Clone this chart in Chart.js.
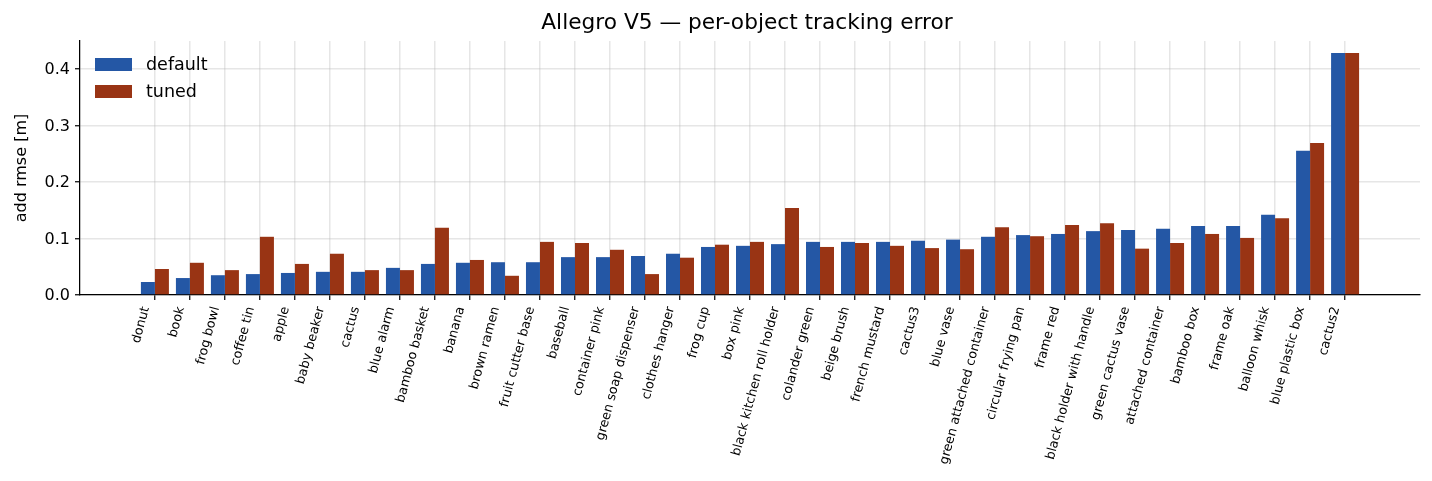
<!DOCTYPE html>
<html>
<head>
<meta charset="utf-8">
<script src="https://cdn.jsdelivr.net/npm/chart.js@4"></script>
<style>
  html, body { margin: 0; padding: 0; background: #fff; }
  #wrap { width: 1432px; height: 481px; }
</style>
</head>
<body>
<div id="wrap"><canvas id="c" width="1432" height="481"></canvas></div>
<script>
const categories = ["donut","book","frog bowl","coffee tin","apple","baby beaker","cactus","blue alarm","bamboo basket","banana","brown ramen","fruit cutter base","baseball","container pink","green soap dispenser","clothes hanger","frog cup","box pink","black kitchen roll holder","colander green","beige brush","french mustard","cactus3","blue vase","green attached container","circular frying pan","frame red","black holder with handle","green cactus vase","attached container","bamboo box","frame oak","balloon whisk","blue plastic box","cactus2"];
const defaultErr = [0.023,0.030,0.035,0.037,0.039,0.041,0.041,0.048,0.055,0.057,0.058,0.058,0.067,0.067,0.069,0.073,0.085,0.087,0.090,0.094,0.094,0.094,0.096,0.098,0.103,0.106,0.108,0.113,0.115,0.117,0.122,0.122,0.142,0.255,0.428];
const tunedErr = [0.046,0.057,0.044,0.103,0.055,0.073,0.044,0.044,0.119,0.062,0.034,0.094,0.092,0.080,0.037,0.066,0.089,0.094,0.154,0.085,0.092,0.087,0.083,0.081,0.120,0.104,0.124,0.127,0.082,0.092,0.108,0.101,0.136,0.269,0.428];
const yTicks = [0.0, 0.1, 0.2, 0.3, 0.4];
const seriesNames = ["default", "tuned"];
const titleText = "Allegro V5 — per-object tracking error";
const yLabel = "add rmse [m]";

const COLORS = ["#2457a5", "#993414"];
const FONT = "'DejaVu Sans', 'Liberation Sans', sans-serif";
const GRID = 'rgba(176,176,176,0.32)';

// axis range like matplotlib: bar extents +/- 0.4 with 5% margins
const lo = -0.4, hi = categories.length - 1 + 0.4;
const span = hi - lo;
const xMin = lo - 0.05 * span, xMax = hi + 0.05 * span;
const dataMax = Math.max(...defaultErr, ...tunedErr);
const yMax = dataMax * 1.05;

const overlay = {
  id: 'overlay',
  afterDraw(chart) {
    const ctx = chart.ctx, a = chart.chartArea;
    ctx.save();
    ctx.fillStyle = '#000';
    ctx.font = "21.7px " + FONT;
    ctx.textAlign = 'center';
    ctx.textBaseline = 'middle';
    ctx.fillText(titleText, (a.left + a.right) / 2 - 3, 23);
    // legend
    ctx.font = "17.5px " + FONT;
    ctx.textAlign = 'left';
    const lx = a.left + 15, ly = a.top + 17;
    seriesNames.forEach((n, i) => {
      const y = ly + i * 27;
      ctx.fillStyle = COLORS[i];
      ctx.fillRect(lx, y, 37, 13);
      ctx.fillStyle = '#000';
      ctx.fillText(n, lx + 51, y + 7);
    });
    ctx.restore();
  }
};

new Chart(document.getElementById('c'), {
  type: 'bar',
  data: {
    datasets: [
      { label: seriesNames[0], data: defaultErr.map((v, i) => ({x: i, y: v})), backgroundColor: COLORS[0], borderWidth: 0 },
      { label: seriesNames[1], data: tunedErr.map((v, i) => ({x: i, y: v})), backgroundColor: COLORS[1], borderWidth: 0 }
    ]
  },
  options: {
    responsive: false,
    animation: false,
    devicePixelRatio: 1,
    categoryPercentage: 0.8,
    barPercentage: 1.0,
    layout: { padding: { top: 41, right: 12, left: 0, bottom: 0 } },
    plugins: { legend: { display: false }, title: { display: false }, tooltip: { enabled: false } },
    scales: {
      x: {
        type: 'linear',
        min: xMin, max: xMax,
        offset: false,
        z: 1,
        afterBuildTicks: (s) => { s.ticks = categories.map((c, i) => ({ value: i })); },
        afterFit: (s) => { s.height = 186; },
        grid: { offset: false, color: GRID, lineWidth: 1.5, tickColor: '#000', tickLength: 5, tickWidth: 1.2 },
        border: { display: true, color: '#000', width: 1.25 },
        ticks: {
          autoSkip: false, minRotation: 75, maxRotation: 75, padding: 5, labelOffset: -9,
          color: '#000', font: { family: FONT, size: 12.8 },
          callback: (v, i) => categories[i]
        }
      },
      y: {
        type: 'linear',
        min: 0, max: yMax,
        z: 1,
        afterBuildTicks: (s) => { s.ticks = yTicks.map(v => ({ value: v })); },
        afterFit: (s) => { s.width = 80; },
        grid: { color: GRID, lineWidth: 1.5, tickColor: '#000', tickLength: 5, tickWidth: 1.2 },
        border: { display: true, color: '#000', width: 1.25 },
        ticks: { color: '#000', padding: 5, labelOffset: 1, font: { family: FONT, size: 16 }, callback: (v) => Number(v).toFixed(1) },
        title: { display: true, text: yLabel, color: '#000', font: { family: FONT, size: 16 }, padding: { top: 12, bottom: 0 } }
      }
    }
  },
  plugins: [overlay]
});
</script>
</body>
</html>
